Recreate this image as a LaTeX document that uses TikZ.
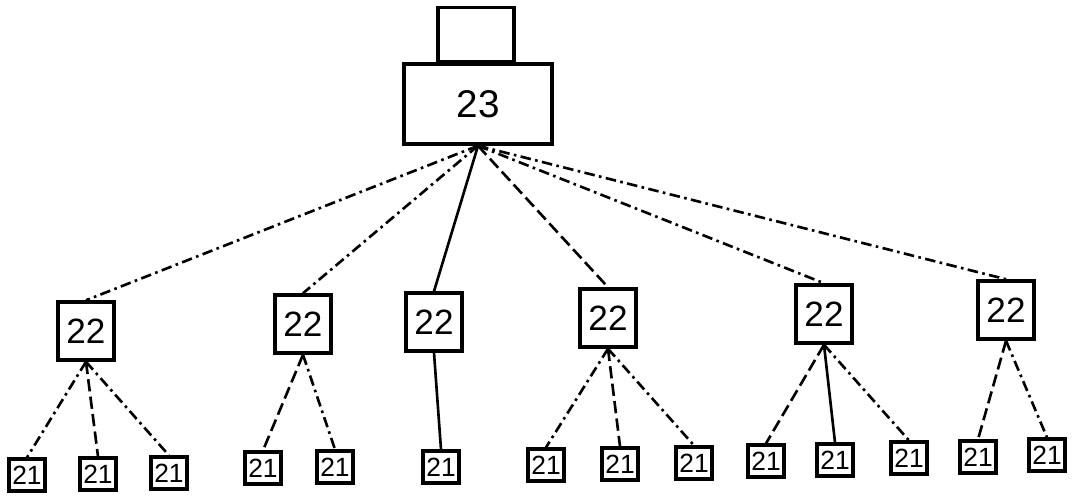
\documentclass[tikz,border=0pt]{standalone}
\usepackage{fontspec}
\setmainfont{Liberation Sans}
\tikzset{box/.style={draw, line width=2pt, inner sep=0pt, minimum width=1.12cm, minimum height=1.16cm, font=\fontsize{20}{20}\selectfont},
         leaf/.style={draw, line width=1.8pt, inner sep=0pt, minimum width=0.72cm, minimum height=0.64cm, font=\fontsize{15}{15}\selectfont},
         solidlink/.style={line width=1.5pt},
         dashlink/.style={line width=1.5pt, dash pattern=on 7pt off 3pt},
         dotlink/.style={line width=1.5pt, dash pattern=on 6pt off 2.5pt on 1.5pt off 2.5pt}
}

\begin{document}
\begin{tikzpicture}[x=0.02cm, y=-0.02cm]
        \useasboundingbox (0,0) rectangle (1075,501);
        \node [draw, line width=2pt, minimum width=2.96cm, minimum height=1.6cm, font=\fontsize{22}{22}\selectfont] (root) at (478,104) {23};
        \node [draw, line width=2pt, minimum width=1.52cm, minimum height=1.1cm, anchor=south] (lid) at (476,64) {};
        \node [box] (m1) at (86,331) {22};
        \node [box] (m2) at (303,324) {22};
        \node [box] (m3) at (434,322) {22};
        \node [box] (m4) at (608,318) {22};
        \node [box] (m5) at (824,314) {22};
        \node [box] (m6) at (1006,310) {22};
        \node [leaf] (l1) at (27,475) {21};
        \node [leaf] (l2) at (98,474) {21};
        \node [leaf] (l3) at (169,473) {21};
        \node [leaf] (l4) at (263,468) {21};
        \node [leaf] (l5) at (335,467) {21};
        \node [leaf] (l6) at (441,467) {21};
        \node [leaf] (l7) at (546,465) {21};
        \node [leaf] (l8) at (620,464) {21};
        \node [leaf] (l9) at (694,463) {21};
        \node [leaf] (l10) at (766,461) {21};
        \node [leaf] (l11) at (835,460) {21};
        \node [leaf] (l12) at (909,458) {21};
        \node [leaf] (l13) at (978,457) {21};
        \node [leaf] (l14) at (1047,455) {21};
        % root to middle row
        \draw [dotlink] (root.south) -- (m1.north);
        \draw [dotlink] (root.south) -- (m2.north);
        \draw [solidlink] (root.south) -- (m3.north);
        \draw [dashlink] (root.south) -- (m4.north);
        \draw [dotlink] (root.south) -- (m5.north);
        \draw [dotlink] (root.south) -- (m6.north);
        % middle row to leaves
        \draw [dotlink] (m1.south) -- (l1.north);
        \draw [dashlink] (m1.south) -- (l2.north);
        \draw [dotlink] (m1.south) -- (l3.north);
        \draw [dashlink] (m2.south) -- (l4.north);
        \draw [dotlink] (m2.south) -- (l5.north);
        \draw [solidlink] (m3.south) -- (l6.north);
        \draw [dotlink] (m4.south) -- (l7.north);
        \draw [dashlink] (m4.south) -- (l8.north);
        \draw [dotlink] (m4.south) -- (l9.north);
        \draw [dashlink] (m5.south) -- (l10.north);
        \draw [solidlink] (m5.south) -- (l11.north);
        \draw [dotlink] (m5.south) -- (l12.north);
        \draw [dashlink] (m6.south) -- (l13.north);
        \draw [dotlink] (m6.south) -- (l14.north);
\end{tikzpicture}
\end{document}
